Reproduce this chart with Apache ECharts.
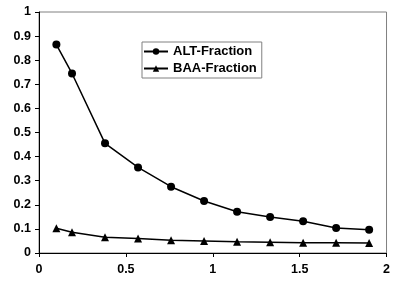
<!DOCTYPE html>
<html>
<head>
<meta charset="utf-8">
<script src="https://cdn.jsdelivr.net/npm/echarts@6/dist/echarts.min.js"></script>
<style>
  html, body { margin: 0; padding: 0; background: #fff; }
  #view { width: 393px; height: 285px; }
</style>
</head>
<body>
<div id="view"></div>
<script>
var xs = [0.1, 0.19, 0.38, 0.57, 0.76, 0.95, 1.14, 1.33, 1.52, 1.71, 1.9];
var alt = [0.865, 0.745, 0.455, 0.355, 0.275, 0.216, 0.171, 0.149, 0.132, 0.104, 0.096];
var baa = [0.103, 0.086, 0.065, 0.06, 0.053, 0.05, 0.047, 0.045, 0.043, 0.043, 0.042];

function pairs(v) {
  return xs.map(function (x, i) { return [x, v[i]]; });
}

var font = { fontFamily: "Liberation Sans", fontWeight: "bold", fontSize: 12.5, color: "#000" };

var option = {
  animation: false,
  grid: {
    left: 39,
    right: 2,
    top: 12,
    bottom: 32,
    show: true,
    borderColor: "#808080",
    borderWidth: 1
  },
  legend: {
    data: ["ALT-Fraction", "BAA-Fraction"],
    orient: "vertical",
    left: 142,
    top: 42,
    padding: [3, 5, 3, 1],
    itemGap: 4,
    itemWidth: 24,
    itemHeight: 8,
    borderColor: "#808080",
    borderWidth: 1,
    textStyle: Object.assign({}, font, { fontSize: 13 })
  },
  xAxis: {
    type: "value",
    min: 0,
    max: 2,
    interval: 0.5,
    splitLine: { show: false },
    axisLine: { lineStyle: { color: "#000", width: 1 } },
    axisTick: { length: 4, lineStyle: { color: "#000" } },
    axisLabel: Object.assign({ margin: 10 }, font)
  },
  yAxis: {
    type: "value",
    min: 0,
    max: 1,
    interval: 0.1,
    splitLine: { show: false },
    axisLine: { show: true, lineStyle: { color: "#000", width: 1 } },
    axisTick: { show: true, length: 4, lineStyle: { color: "#000" } },
    axisLabel: Object.assign({ margin: 8 }, font)
  },
  series: [{
    name: "ALT-Fraction",
    type: "line",
    data: pairs(alt),
    symbol: "circle",
    symbolSize: 8,
    lineStyle: { color: "#000", width: 1.5 },
    itemStyle: { color: "#000" }
  },
  {
    name: "BAA-Fraction",
    type: "line",
    data: pairs(baa),
    symbol: "triangle",
    symbolSize: 8,
    lineStyle: { color: "#000", width: 1.5 },
    itemStyle: { color: "#000" }
  }
  ]
};

echarts.init(document.getElementById("view")).setOption(option);
</script>
</body>
</html>
